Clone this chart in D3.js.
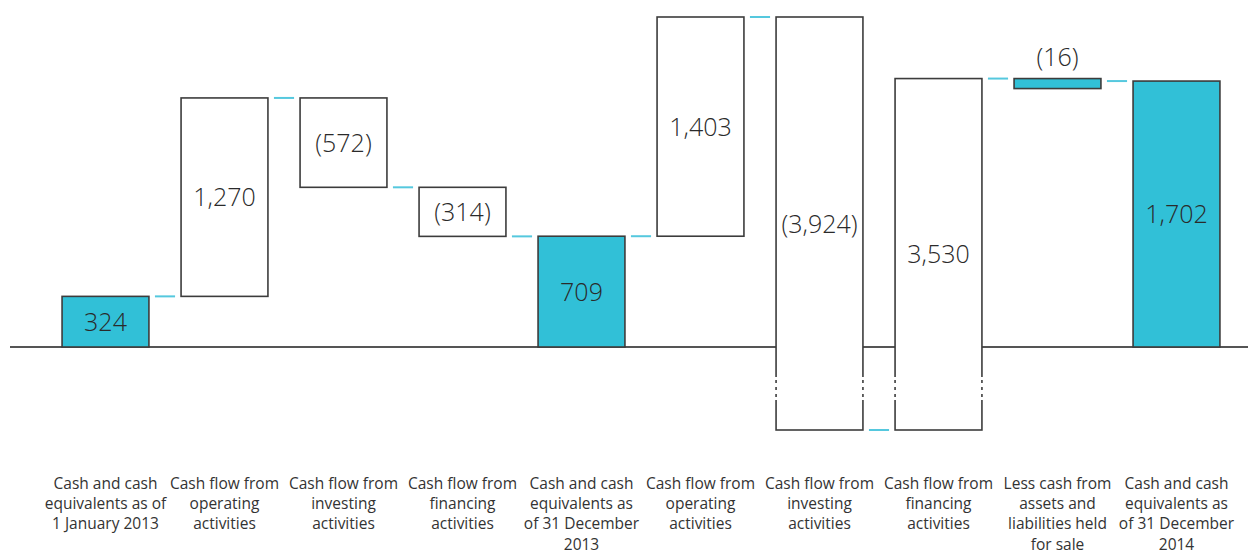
<!DOCTYPE html>
<html>
<head>
<meta charset="utf-8">
<script src="https://cdn.jsdelivr.net/npm/d3@7"></script>
<style>
  html, body { margin: 0; padding: 0; background: #fff; }
  svg { display: block; }
</style>
</head>
<body>
<svg id="chart" width="1248" height="554"></svg>
<script>
const categories = [
  "Cash and cash\nequivalents as of\n1 January 2013",
  "Cash flow from\noperating\nactivities",
  "Cash flow from\ninvesting\nactivities",
  "Cash flow from\nfinancing\nactivities",
  "Cash and cash\nequivalents as\nof 31 December\n2013",
  "Cash flow from\noperating\nactivities",
  "Cash flow from\ninvesting\nactivities",
  "Cash flow from\nfinancing\nactivities",
  "Less cash from\nassets and\nliabilities held\nfor sale",
  "Cash and cash\nequivalents as\nof 31 December\n2014"
];
const values = [324, 1270, -572, -314, 709, 1403, -3924, 3530, -16, 1702];
const isTotal = [true, false, false, false, true, false, false, false, false, true];

const W = 1248, H = 554;
const svg = d3.select("#chart");
const cyan = "#31c0d7";
const connColor = "#55c8de";
const strokeCol = "#3c3c3c";

// compute waterfall
let running = 0;
const bars = values.map((v, i) => {
  let start, end;
  if (isTotal[i]) { start = 0; end = v; }
  else { start = running; end = running + v; }
  running = end;
  return { i, v, start, end, lo: Math.min(start, end), hi: Math.max(start, end), total: isTotal[i] };
});

const minVal = d3.min(bars, d => d.lo);
const maxVal = d3.max(bars, d => d.hi);

const x = d3.scaleBand().domain(d3.range(categories.length))
  .range([46, 1236]).paddingInner(0.27).paddingOuter(0.135);
// broken (compressed) scale below zero
const y = d3.scaleLinear().domain([minVal, 0, maxVal]).range([430, 347, 17]);
const bw = x.bandwidth();

const fmt = v => v < 0 ? "(" + d3.format(",")(-v) + ")" : d3.format(",")(v);

// baseline
svg.append("line")
  .attr("x1", 10).attr("x2", W).attr("y1", y(0)).attr("y2", y(0))
  .attr("stroke", "#555").attr("stroke-width", 2);

// connectors
for (let i = 0; i < bars.length - 1; i++) {
  const lvl = bars[i].end;
  svg.append("line")
    .attr("x1", x(i) + bw + 6).attr("x2", x(i + 1) - 6)
    .attr("y1", y(lvl)).attr("y2", y(lvl))
    .attr("stroke", connColor).attr("stroke-width", 2);
}

const minH = 10;
// bars
bars.forEach(d => {
  const top = y(d.hi);
  const h = Math.max(minH, y(d.lo) - y(d.hi));
  d.top = top; d.h = h;
  svg.append("rect")
    .attr("x", x(d.i)).attr("y", top)
    .attr("width", bw).attr("height", h)
    .attr("fill", (d.total || Math.abs(d.v) < 50) ? cyan : "#fff")
    .attr("stroke", strokeCol).attr("stroke-width", 1.6);
  // break marks for bars extending below zero
  if (d.lo < 0) {
    [x(d.i), x(d.i) + bw].forEach(sx => {
      svg.append("line").attr("x1", sx).attr("x2", sx)
        .attr("y1", 377).attr("y2", 400)
        .attr("stroke", "#fff").attr("stroke-width", 3);
      [380, 387, 394].forEach(dy => {
        svg.append("line").attr("x1", sx).attr("x2", sx)
          .attr("y1", dy).attr("y2", dy + 3)
          .attr("stroke", strokeCol).attr("stroke-width", 1.6);
      });
    });
  }
});

// value labels
bars.forEach(d => {
  const inside = d.h >= 30;
  const cy = inside ? d.top + d.h / 2 : d.top - 22;
  svg.append("text")
    .attr("x", x(d.i) + bw / 2).attr("y", cy)
    .attr("dy", "0.36em")
    .attr("text-anchor", "middle")
    .attr("font-family", "'Open Sans', sans-serif")
    .attr("font-weight", 300)
    .attr("font-size", 25)
    .attr("fill", "#2a2a2a")
    .text(fmt(d.v));
});

// category labels
categories.forEach((c, i) => {
  const t = svg.append("text")
    .attr("text-anchor", "middle")
    .attr("font-family", "'Open Sans', sans-serif")
    .attr("font-size", 15.5)
    .attr("fill", "#333");
  c.split("\n").forEach((line, k) => {
    t.append("tspan").attr("x", x(i) + bw / 2).attr("y", 489 + k * 20.2).text(line);
  });
});
</script>
</body>
</html>
